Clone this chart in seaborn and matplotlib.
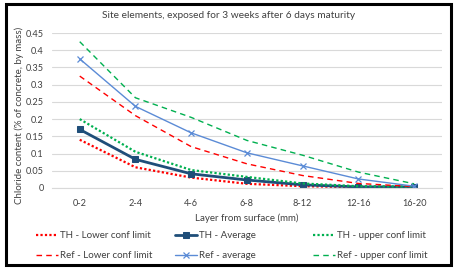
import matplotlib
matplotlib.use('Agg')
import matplotlib.pyplot as plt
import seaborn as sns
import pandas as pd
from matplotlib.patches import Rectangle

layers = ['0-2', '2-4', '4-6', '6-8', '8-12', '12-16', '16-20']
th_lower = [0.140, 0.060, 0.030, 0.012, 0.005, 0.002, 0.002]
th_avg = [0.170, 0.083, 0.041, 0.023, 0.009, 0.003, 0.003]
th_upper = [0.200, 0.105, 0.052, 0.032, 0.013, 0.005, 0.004]
ref_lower = [0.325, 0.210, 0.120, 0.070, 0.036, 0.013, 0.004]
ref_avg = [0.375, 0.237, 0.160, 0.102, 0.064, 0.026, 0.005]
ref_upper = [0.425, 0.262, 0.205, 0.138, 0.095, 0.046, 0.012]

series = {
    'TH - Lower conf limit': th_lower,
    'TH - Average': th_avg,
    'TH - upper conf limit': th_upper,
    'Ref - Lower conf limit': ref_lower,
    'Ref - average': ref_avg,
    'Ref - upper conf limit': ref_upper,
}
styles = {
    'TH - Lower conf limit': dict(color='#FF0000', linestyle=(0, (1, 1)), linewidth=1.6),
    'TH - Average': dict(color='#1F4E79', linestyle='-', linewidth=2.0, marker='s', markersize=5,
                         markeredgecolor='#1F4E79'),
    'TH - upper conf limit': dict(color='#00B050', linestyle=(0, (1, 1)), linewidth=1.6),
    'Ref - Lower conf limit': dict(color='#FF0000', linestyle=(0, (4, 3)), linewidth=1.0),
    'Ref - average': dict(color='#5B8BD6', linestyle='-', linewidth=1.0, marker='x', markersize=5,
                          markeredgecolor='#5B8BD6', markeredgewidth=0.9),
    'Ref - upper conf limit': dict(color='#00B050', linestyle=(0, (4, 3)), linewidth=1.0),
}

sns.set_style('white')
plt.rcParams['font.family'] = ['Lato', 'DejaVu Sans']

fig = plt.figure(figsize=(4.59, 2.78), dpi=100)
ax = fig.add_axes([0.113, 0.324, 0.850, 0.557])

x = list(range(len(layers)))
handles = {}
for name, vals in series.items():
    df = pd.DataFrame({'x': x, 'y': vals})
    sns.lineplot(data=df, x='x', y='y', ax=ax, sort=False, **styles[name])
    handles[name] = ax.lines[-1]

ax.set_xlim(-0.5, len(layers) - 0.5)
ax.set_ylim(0, 0.45)
ax.set_yticks([i * 0.05 for i in range(10)])
ax.set_yticklabels(['0', '0.05', '0.1', '0.15', '0.2', '0.25', '0.3', '0.35', '0.4', '0.45'])
ax.set_xticks(x)
ax.set_xticklabels(layers)
ax.tick_params(labelsize=6.6, colors='#404040', length=0, pad=6)
ax.tick_params(axis='x', pad=8)
ax.yaxis.grid(True, color='#D9D9D9', linewidth=0.8)
ax.set_axisbelow(True)
for s in ['top', 'right', 'left']:
    ax.spines[s].set_visible(False)
ax.spines['bottom'].set_color('#D9D9D9')

fig.text(0.497, 0.945, 'Site elements, exposed for 3 weeks after 6 days maturity', fontsize=7.3,
         color='#404040', ha='center', va='center')
ax.set_xlabel('Layer from surface (mm)', fontsize=7, color='#404040', labelpad=4)
ax.set_ylabel('Chloride content (% of concrete, by mass)', fontsize=7, color='#404040')
ax.yaxis.set_label_coords(-0.072, 0.47)

columns = [
    (['TH - Lower conf limit', 'Ref - Lower conf limit'], 0.078),
    (['TH - Average', 'Ref - average'], 0.381),
    (['TH - upper conf limit', 'Ref - upper conf limit'], 0.682),
]
for names, xpos in columns:
    fig.legend([handles[n] for n in names], names, loc='upper left',
               bbox_to_anchor=(xpos, 0.168), frameon=False, fontsize=7, labelcolor='#404040',
               handlelength=2.3, handletextpad=0.2, labelspacing=1.15, borderpad=0,
               borderaxespad=0)

fig.patches.append(Rectangle((0.012, 0.045), 0.970, 0.940, transform=fig.transFigure,
                             fill=False, edgecolor='black', linewidth=2.2))

plt.savefig('out.png', dpi=100)
